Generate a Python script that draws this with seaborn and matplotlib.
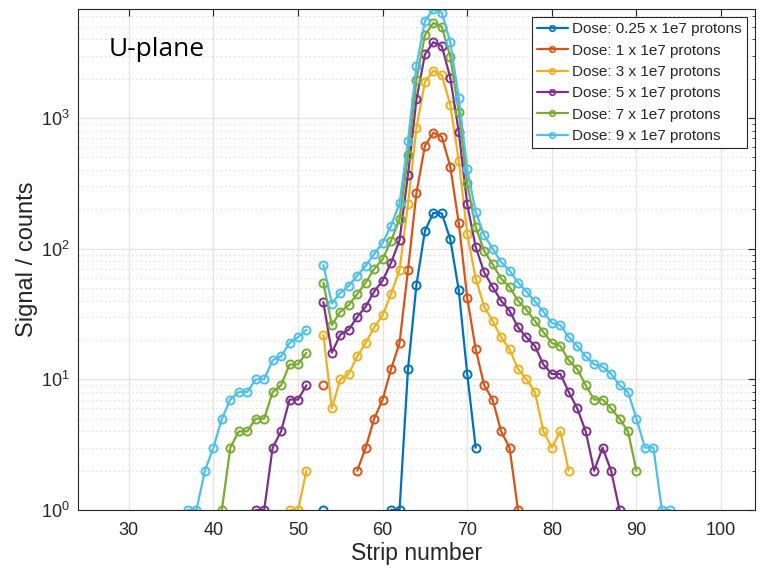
import numpy as np
import pandas as pd
import matplotlib
matplotlib.use("Agg")
import matplotlib.pyplot as plt
from matplotlib.lines import Line2D
from matplotlib.ticker import LogLocator, FixedLocator, NullFormatter
import seaborn as sns

nan = np.nan

dose_labels = ["Dose: 0.25 x 1e7 protons", "Dose: 1 x 1e7 protons", "Dose: 3 x 1e7 protons",
               "Dose: 5 x 1e7 protons", "Dose: 7 x 1e7 protons", "Dose: 9 x 1e7 protons"]
colors = ["#0072BD", "#D95319", "#EDB120", "#7E2F8E", "#77AC30", "#4DBEEE"]

# strips and signal (NaN = zero counts, not shown on log axis)
strips_d025 = list(range(53, 72))
signal_d025 = [1, nan, nan, nan, nan, nan, nan, nan, 1, 1, 12, 53, 137, 188, 186, 118, 48, 11, 3]

strips_d1 = list(range(53, 77))
signal_d1 = [9, nan, nan, nan, 2, 3, 5, 7, 12, 19, 69, 268, 613, 771, 718, 423, 157, 42, 17, 9, 7, 4, 3, 1]

strips_d3 = list(range(49, 83))
signal_d3 = [1, 1, 2, nan, 22, 6, 10, 11, 15, 19, 25, 31, 45, 69, 220, 841, 1890, 2300, 2130, 1255,
             471, 130, 59, 36, 28, 21, 17, 12, 10, 8, 4, 3, 4, 2]

strips_d5 = list(range(45, 89))
signal_d5 = [1, 1, 3, 4, 7, 7, 9, nan, 39, 16, 22, 24, 30, 36, 47, 57, 78, 116, 368, 1390, 3070, 3810,
             3550, 2030, 784, 219, 103, 66, 51, 40, 33.5, 25, 21, 18, 13, 11, 11, 8, 6, 4, 2, 3, 2, 1]

strips_d7 = list(range(41, 91))
signal_d7 = [1, 3, 4, 4, 5, 5, 8, 9, 13, 13, 16, nan, 55, 26, 33, 37, 45, 55, 70, 83, 115, 168, 517,
             1950, 4310, 5350, 4990, 2940, 1120, 316, 147, 96, 76, 59, 51, 40, 34, 28, 23, 19, 18, 14,
             12, 9, 7, 7, 6, 5, 4, 2]

strips_d9 = list(range(37, 95))
signal_d9 = [1, 1, 2, 3, 5, 7, 8, 8, 10, 10, 14, 15, 19, 21, 24, nan, 75, 38, 46, 52, 62, 74, 91, 111,
             150, 222, 670, 2520, 5540, 6800, 6380, 3790, 1430, 405, 191, 127, 100, 79, 68, 55, 47,
             39.5, 33, 27, 26, 21, 18, 15, 13, 12.5, 11, 9, 8, 5, 3, 3, 1, 1]

x_ticks = [30, 40, 50, 60, 70, 80, 90, 100]

series = [(strips_d025, signal_d025), (strips_d1, signal_d1), (strips_d3, signal_d3),
          (strips_d5, signal_d5), (strips_d7, signal_d7), (strips_d9, signal_d9)]

rows = []
for lab, (xs, ys) in zip(dose_labels, series):
    seg = 0
    prev_nan = True
    for xv, yv in zip(xs, ys):
        if np.isnan(yv):
            prev_nan = True
            continue
        if prev_nan:
            seg += 1
            prev_nan = False
        rows.append({"strip": xv, "signal": yv, "dose": lab, "seg": f"{lab}-{seg}"})
df = pd.DataFrame(rows)

sns.set_theme(style="white")
plt.rcParams["font.family"] = ["Liberation Sans", "DejaVu Sans"]

fig = plt.figure(figsize=(7.61, 5.69), dpi=100)
ax = fig.add_axes([0.1025, 0.1037, 0.8895, 0.880])

sns.lineplot(data=df, x="strip", y="signal", hue="dose", units="seg", estimator=None,
             sort=False, palette=colors, hue_order=dose_labels, marker="o", markersize=5.8,
             markeredgewidth=1.4, linewidth=1.6, legend=False, ax=ax)
for ln in ax.lines:
    ln.set_markerfacecolor("none")
    ln.set_markeredgecolor(ln.get_color())

ax.set_yscale("log")
ax.set_xlim(24, 104)
ax.set_ylim(1, 6800)
ax.xaxis.set_major_locator(FixedLocator(x_ticks))
ax.yaxis.set_major_locator(LogLocator(base=10, numticks=10))
ax.yaxis.set_minor_locator(LogLocator(base=10, subs=np.arange(2, 10), numticks=10))
ax.yaxis.set_minor_formatter(NullFormatter())

ax.grid(True, which="major", color="#e3e3e3", linewidth=0.9, linestyle="-")
ax.grid(True, which="minor", axis="y", color="#d2d2d2", linewidth=0.8, linestyle=(0, (1, 3)))
ax.set_axisbelow(True)

tc = "#262626"
for s in ax.spines.values():
    s.set_color(tc)
    s.set_linewidth(0.8)
    s.set_visible(True)
ax.tick_params(which="both", direction="in", top=True, right=True, colors=tc, labelsize=13)
ax.tick_params(which="major", length=5, width=0.8)
ax.tick_params(which="minor", length=2.5, width=0.6)
ax.tick_params(axis="x", which="major", pad=9)
ax.tick_params(axis="y", which="major", pad=6)
ax.tick_params(axis="x", which="minor", bottom=False, top=False)

ax.set_xlabel("Strip number", fontsize=16.5, color=tc, labelpad=2)
ax.set_ylabel("Signal / counts", fontsize=17, color=tc, labelpad=2)

ax.text(0.045, 0.92, "U-plane", transform=ax.transAxes, fontsize=19, family="Open Sans",
        color="black", va="center", ha="left")

handles = [Line2D([0], [0], color=c, linewidth=1.6, marker="o", markersize=4,
                  markerfacecolor="none", markeredgewidth=1.2) for c in colors]
leg = ax.legend(handles, dose_labels, loc="upper right", fontsize=11, frameon=True,
                fancybox=False, edgecolor=tc, framealpha=1, borderaxespad=0.5,
                handlelength=2.0, handletextpad=0.3, labelspacing=0.48, borderpad=0.35)
leg.get_frame().set_linewidth(0.8)

fig.savefig("out.png", dpi=100)
